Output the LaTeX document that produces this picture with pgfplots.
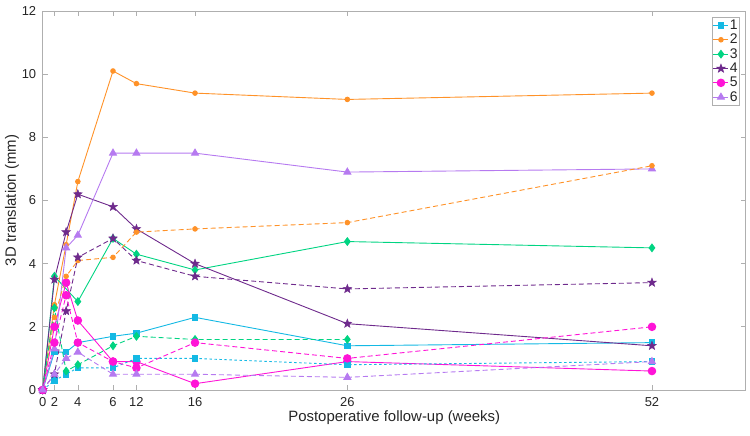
\documentclass[border=0pt]{standalone}
\usepackage{pgfplots}
\pgfplotsset{compat=1.18}
\usepackage{fontspec}
\setmainfont{Liberation Sans}
\usetikzlibrary{plotmarks}
\definecolor{c1}{RGB}{20,185,228}
\definecolor{c2}{RGB}{255,146,40}
\definecolor{c3}{RGB}{0,212,130}
\definecolor{c4}{RGB}{110,42,140}
\definecolor{c5}{RGB}{255,20,215}
\definecolor{c6}{RGB}{182,122,240}
\definecolor{axgray}{RGB}{175,175,175}
\definecolor{txt}{RGB}{38,38,38}
\pgfdeclareplotmark{fstar}{%
  \pgfpathmoveto{\pgfpointpolar{90}{\pgfplotmarksize}}%
  \pgfpathlineto{\pgfpointpolar{126}{0.42\pgfplotmarksize}}%
  \pgfpathlineto{\pgfpointpolar{162}{\pgfplotmarksize}}%
  \pgfpathlineto{\pgfpointpolar{198}{0.42\pgfplotmarksize}}%
  \pgfpathlineto{\pgfpointpolar{234}{\pgfplotmarksize}}%
  \pgfpathlineto{\pgfpointpolar{270}{0.42\pgfplotmarksize}}%
  \pgfpathlineto{\pgfpointpolar{306}{\pgfplotmarksize}}%
  \pgfpathlineto{\pgfpointpolar{342}{0.42\pgfplotmarksize}}%
  \pgfpathlineto{\pgfpointpolar{18}{\pgfplotmarksize}}%
  \pgfpathlineto{\pgfpointpolar{54}{0.42\pgfplotmarksize}}%
  \pgfpathclose\pgfusepathqfillstroke}
\begin{document}
\begin{tikzpicture}
\path[use as bounding box] (-42.7bp,-46bp) rectangle (707.3bp,390bp);
\begin{axis}[
  at={(0,0)}, anchor=south west,
  scale only axis, width=703bp, height=379bp,
  xmin=0, xmax=60, ymin=0, ymax=12,
  xtick={0,1,3,6,8,13,26,52},
  xticklabels={0,2,4,6,12,16,26,52},
  ytick={0,2,4,6,8,10,12},
  tick pos=both, tick align=inside,
  major tick length=5bp,
  axis line style={axgray, line width=0.7bp},
  every tick/.style={axgray, line width=0.7bp},
  /pgf/number format/assume math mode=true,
  tick label style={font=\fontsize{13}{15}\selectfont, text=txt},
  xticklabel style={yshift=-4bp},
  yticklabel style={xshift=-3bp},
  label style={font=\fontsize{15}{17}\selectfont, text=txt},
  xlabel={Postoperative follow-up (weeks)},
  ylabel={3D translation (mm)},
  xlabel style={at={(axis description cs:0.5,0)}, anchor=center, yshift=-28bp},
  ylabel style={yshift=-4bp},
  legend style={at={(1,1)}, anchor=north east, xshift=-5.7bp, yshift=-6bp,
    draw=axgray, line width=0.7bp, font=\fontsize{14}{16}\selectfont, text=txt,
    row sep=2.2bp, inner xsep=1bp, inner ysep=2bp,
    nodes={inner xsep=1bp, inner ysep=0.5bp}},
  legend cell align=left,
  legend image code/.code={
    \draw[mark repeat=2,mark phase=2] plot coordinates {(0bp,0bp) (7.5bp,0bp) (15bp,0bp)};},
  every axis plot/.append style={line width=0.9bp},
]
% solid lines (legend)
\addplot[c1, mark=square*, mark size=2.8bp, mark options={solid}] coordinates {(0,0)(1,1.2)(2,1.2)(3,1.5)(6,1.7)(8,1.8)(13,2.3)(26,1.4)(52,1.5)};
\addlegendentry{1}
\addplot[c2, mark=*, mark size=2.3bp, mark options={solid}] coordinates {(0,0)(1,2.7)(2,4.6)(3,6.6)(6,10.1)(8,9.7)(13,9.4)(26,9.2)(52,9.4)};
\addlegendentry{2}
\addplot[c3, mark=diamond*, mark size=3.8bp, mark options={solid}] coordinates {(0,0)(1,3.6)(3,2.8)(6,4.8)(8,4.3)(13,3.8)(26,4.7)(52,4.5)};
\addlegendentry{3}
\addplot[c4, mark=fstar, mark size=4.5bp, mark options={solid,fill=c4,line width=0.5bp}] coordinates {(0,0)(1,3.5)(2,5.0)(3,6.2)(6,5.8)(8,5.1)(13,4.0)(26,2.1)(52,1.4)};
\addlegendentry{4}
\addplot[c5, mark=*, mark size=3.8bp, mark options={solid}] coordinates {(0,0)(1,2.0)(2,3.4)(3,2.2)(6,0.9)(8,0.9)(13,0.2)(26,0.9)(52,0.6)};
\addlegendentry{5}
\addplot[c6, mark=triangle*, mark size=4bp, mark options={solid}] coordinates {(0,0)(1,1.3)(2,4.5)(3,4.9)(6,7.5)(8,7.5)(13,7.5)(26,6.9)(52,7.0)};
\addlegendentry{6}
% dashed / dotted lines
\addplot[c1, dash pattern=on 2.5bp off 2.5bp, mark=square*, mark size=2.8bp, mark options={solid}, forget plot] coordinates {(0,0)(1,0.3)(2,0.5)(3,0.7)(6,0.7)(8,1.0)(13,1.0)(26,0.8)(52,0.9)};
\addplot[c2, dash pattern=on 5bp off 3bp, mark=*, mark size=2.3bp, mark options={solid}, forget plot] coordinates {(0,0)(1,2.3)(2,3.6)(3,4.1)(6,4.2)(8,5.0)(13,5.1)(26,5.3)(52,7.1)};
\addplot[c3, dash pattern=on 5bp off 3bp, mark=diamond*, mark size=3.8bp, mark options={solid}, forget plot] coordinates {(0,0)(1,2.6)(2,0.6)(3,0.8)(6,1.4)(8,1.7)(13,1.6)(26,1.6)};
\addplot[c4, dash pattern=on 5bp off 3bp, mark=fstar, mark size=4.5bp, mark options={solid,fill=c4,line width=0.5bp}, forget plot] coordinates {(0,0)(1,0.5)(2,2.5)(3,4.2)(6,4.8)(8,4.1)(13,3.6)(26,3.2)(52,3.4)};
\addplot[c5, dash pattern=on 5bp off 3bp, mark=*, mark size=3.8bp, mark options={solid}, forget plot] coordinates {(0,0)(1,1.5)(2,3.0)(3,1.5)(6,0.9)(8,0.7)(13,1.5)(26,1.0)(52,2.0)};
\addplot[c6, dash pattern=on 5bp off 3bp, mark=triangle*, mark size=4bp, mark options={solid}, forget plot] coordinates {(0,0)(1,0.5)(2,1.0)(3,1.2)(6,0.5)(8,0.5)(13,0.5)(26,0.4)(52,0.9)};
\end{axis}
\end{tikzpicture}
\end{document}
